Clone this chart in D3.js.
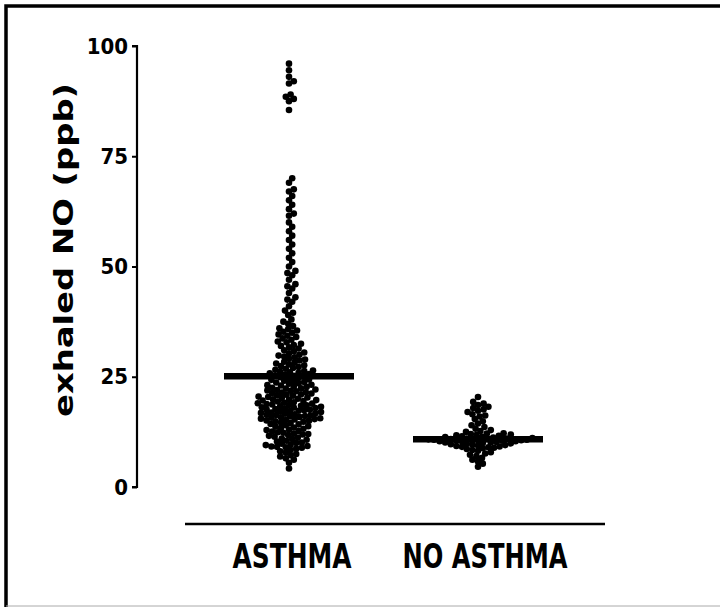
<!DOCTYPE html>
<html>
<head>
<meta charset="utf-8">
<script src="https://cdn.jsdelivr.net/npm/d3@7"></script>
<style>
  html, body { margin: 0; padding: 0; background: #fff; }
  svg { display: block; }
  text { font-family: "Liberation Sans Narrow", "Arial Narrow", "DejaVu Sans Condensed", sans-serif; font-weight: bold; fill: #000; }
</style>
</head>
<body>
<script>
// Groups and their exhaled NO measurements (ppb)
const categories = ["ASTHMA", "NO ASTHMA"];

const asthmaValues = [
  96, 94.5, 93, 92, 91.5, 89, 88.5, 88, 87.5, 85.5,
  70, 69, 67.5, 67, 66, 65, 64, 63, 62, 61.5, 60, 59, 58, 57, 56, 55, 54, 53, 52, 51,
  50, 49, 48.5, 48, 47, 46, 45.5, 45, 44, 43, 42.5, 42, 41, 40, 39.5, 39, 38, 37.5, 37, 36.5, 36,
  35.8, 35.5, 35.2, 35, 34.6, 34.3, 34, 33.7, 33.4, 33, 32.8, 32.5, 32.2, 32, 31.7, 31.4, 31, 30.8, 30.5, 30.3, 30,
  29.8, 29.6, 29.4, 29.1, 28.9, 28.7, 28.4, 28.2, 28, 27.8, 27.6, 27.4, 27.2, 27, 26.8, 26.6, 26.4, 26.3, 26.1, 26,
  25.9, 25.8, 25.6, 25.5, 25.3, 25.2, 25, 24.9, 24.7, 24.6, 24.4, 24.3, 24.1, 24, 23.8, 23.7, 23.5, 23.4, 23.2, 23.1,
  23, 22.8, 22.7, 22.5, 22.4, 22.3, 22.1, 22,
  21.9, 21.8, 21.7, 21.5, 21.4, 21.3, 21.2, 21, 20.9, 20.8, 20.7, 20.5, 20.4, 20.3, 20.2, 20, 19.9, 19.8,
  19.7, 19.6, 19.5, 19.4, 19.2, 19.1, 19, 18.9, 18.8, 18.7, 18.6, 18.5, 18.4, 18.3, 18.2, 18.1, 18, 17.9,
  17.8, 17.7, 17.6, 17.5, 17.4, 17.3, 17.2, 17.1, 17, 16.9, 16.8, 16.7, 16.6, 16.5, 16.4, 16.3, 16.2, 16.1,
  16, 15.9, 15.8, 15.7, 15.6, 15.5, 15.4, 15.3, 15.2, 15.1, 15, 14.9,
  14.8, 14.6, 14.5, 14.3, 14.2, 14, 13.8, 13.7, 13.5, 13.4, 13.2, 13, 12.9, 12.7, 12.6, 12.4, 12.3, 12.1, 12, 11.9, 11.8,
  11.6, 11.4, 11.2, 11, 10.9, 10.7, 10.5, 10.3, 10.1, 10, 9.8, 9.6, 9.5, 9.3, 9.2, 9.1, 9, 8.9,
  8.7, 8.4, 8.1, 7.8, 7.5, 7.2, 6.9, 6.5, 6.2, 5.5, 4.2
];

const noAsthmaValues = [
  20.4, 19.3, 18.9, 18.6, 18.2, 17.9, 17.6, 17.3, 17, 16.5, 16.2, 16,
  15.4, 14.9, 14.4, 14, 13.6, 13.2, 12.9, 12.7, 12.5,
  12.2, 12.1, 12, 11.9, 11.8, 11.7, 11.6, 11.5, 11.4, 11.3, 11.2, 11.1, 11, 11, 10.9, 10.9, 10.8, 10.8,
  10.7, 10.7, 10.6, 10.6, 10.5, 10.5, 10.4, 10.4, 10.3, 10.2, 10.1, 10.1,
  10, 9.9, 9.8, 9.7, 9.6, 9.5, 9.4, 9.3, 9.2, 9.1, 9, 8.9, 8.8, 8.6, 8.4, 8.2,
  7.9, 7.6, 7.3, 7, 6.6, 6.2, 5.8, 5.3, 4.6
];

// Group mean lines (ppb)
const groupMeans = [25.1, 10.8];

const yTicks = [0, 25, 50, 75, 100];
const yTitle = "exhaled NO (ppb)";

const W = 720, H = 607;
const svg = d3.select("body").append("svg").attr("width", W).attr("height", H);

const y = d3.scaleLinear().domain([0, 100]).range([487, 46]);
const x = d3.scalePoint().domain(categories).range([289, 478]);

// Frame
svg.append("path")
  .attr("d", "M720,6 H6 V607")
  .attr("fill", "none").attr("stroke", "#000").attr("stroke-width", 3.5);
svg.append("line")
  .attr("x1", 6).attr("x2", W).attr("y1", 606).attr("y2", 606)
  .attr("stroke", "#aaa").attr("stroke-width", 1);

// Y axis
const yAxis = d3.axisLeft(y).tickValues(yTicks).tickSize(5).tickPadding(4);
const gy = svg.append("g").attr("transform", "translate(137,0)").call(yAxis);
gy.select(".domain").attr("stroke", "#000").attr("stroke-width", 2.2)
  .attr("d", `M-5,${y(100)}H0V${y(0)}H-5`);
gy.selectAll(".tick line").attr("stroke", "#000").attr("stroke-width", 2);
gy.selectAll(".tick text")
  .style("font-family", '"Liberation Sans Narrow", "Arial Narrow", "DejaVu Sans Condensed", sans-serif')
  .style("font-weight", "bold")
  .style("font-size", "22px")
  .attr("fill", "#000");

svg.append("text")
  .attr("transform", `translate(73,250) rotate(-90)`)
  .attr("text-anchor", "middle")
  .attr("textLength", 334).attr("lengthAdjust", "spacingAndGlyphs")
  .style("font-size", "27px")
  .text(yTitle);

// X axis baseline and category labels
svg.append("line")
  .attr("x1", 185).attr("x2", 605).attr("y1", 524).attr("y2", 524)
  .attr("stroke", "#000").attr("stroke-width", 2.5);

const labelWidths = [119, 165];
const labelShift = [3, 7];
svg.selectAll("text.cat").data(categories).join("text")
  .attr("class", "cat")
  .attr("x", (d, i) => x(d) + labelShift[i])
  .attr("y", 568)
  .attr("text-anchor", "middle")
  .attr("textLength", (d, i) => labelWidths[i]).attr("lengthAdjust", "spacingAndGlyphs")
  .style("font-size", "33px")
  .text(d => d);

// Beeswarm placement: each point takes the nearest free horizontal slot
const r = 3.3;
const minGap = 2 * r - 1.4;
function swarm(values, cx) {
  const placed = [];
  const pts = values.slice().sort((a, b) => a - b).map(v => ({ v, py: y(v) }));
  pts.forEach(p => {
    let off = 0;
    for (let k = 0; k < 400; k++) {
      const cand = k === 0 ? 0 : (k % 2 ? 1 : -1) * Math.ceil(k / 2) * 0.8;
      const ok = placed.every(q => {
        const dx = q.px - (cx + cand), dy = q.py - p.py;
        return dx * dx + dy * dy >= minGap * minGap;
      });
      if (ok) { off = cand; break; }
    }
    p.px = cx + off;
    placed.push(p);
  });
  return placed;
}

const groups = [asthmaValues, noAsthmaValues];
groups.forEach((vals, i) => {
  const pts = swarm(vals, x(categories[i]));
  svg.append("g").selectAll("circle").data(pts).join("circle")
    .attr("cx", d => d.px).attr("cy", d => d.py).attr("r", r)
    .attr("fill", "#000");
});

// Mean lines
svg.selectAll("line.mean").data(groupMeans).join("line")
  .attr("class", "mean")
  .attr("x1", (d, i) => x(categories[i]) - 65)
  .attr("x2", (d, i) => x(categories[i]) + 65)
  .attr("y1", d => y(d)).attr("y2", d => y(d))
  .attr("stroke", "#000").attr("stroke-width", 6.5);
</script>
</body>
</html>
